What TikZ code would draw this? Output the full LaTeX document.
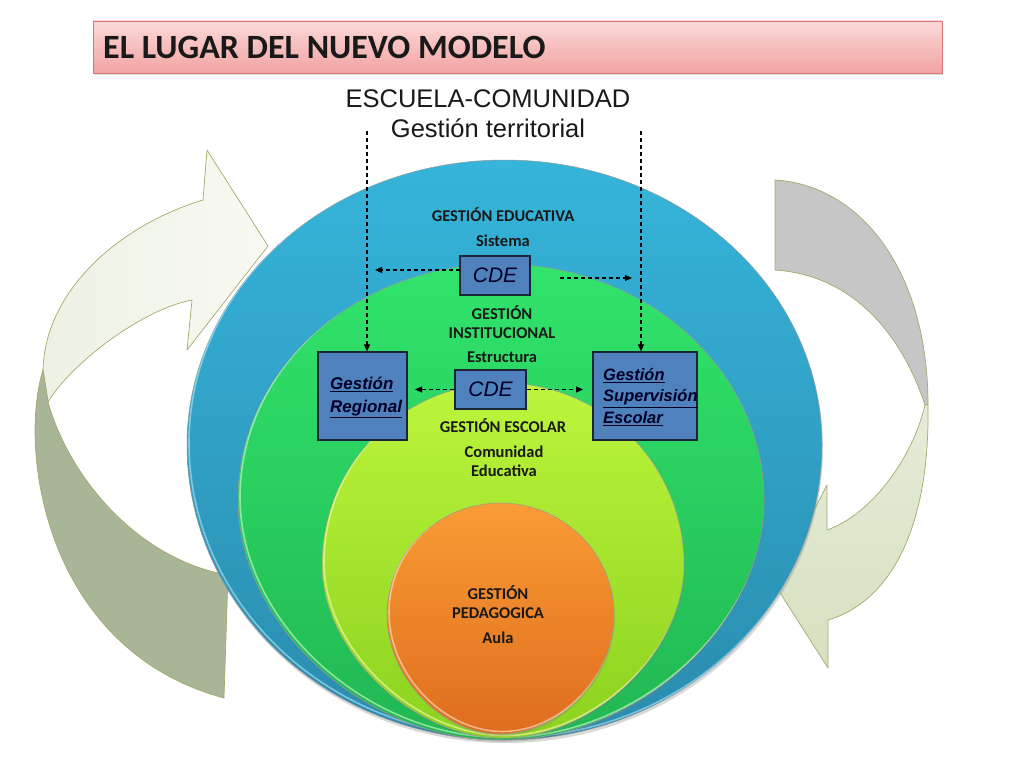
\documentclass[tikz,border=0pt]{standalone}
\usepackage{fontspec}
\setmainfont{Carlito}
\newfontfamily\arialf{Liberation Sans}
\usetikzlibrary{arrows.meta,shadows}
\definecolor{bluetop}{HTML}{36B4DA}
\definecolor{bluebot}{HTML}{2A8CAE}
\definecolor{greentop}{HTML}{31E46B}
\definecolor{greenbot}{HTML}{21B753}
\definecolor{limetop}{HTML}{BDF53C}
\definecolor{limebot}{HTML}{8BD21F}
\definecolor{orangetop}{HTML}{F99C35}
\definecolor{orangebot}{HTML}{DF6D1E}
\definecolor{boxblue}{HTML}{4F81BD}
\definecolor{boxedge}{HTML}{1B2536}
\definecolor{olive}{HTML}{A3AA6E}
\definecolor{darkrib}{HTML}{A9B597}
\definecolor{lightrib}{HTML}{F8FAF3}
\definecolor{lightrib2}{HTML}{EDF1E4}
\definecolor{grayrib}{HTML}{C6C6C6}
\definecolor{greenrib}{HTML}{E6ECD9}
\definecolor{greenrib2}{HTML}{D6E0BF}
\definecolor{pinktop}{HTML}{FBD9D9}
\definecolor{pinkbot}{HTML}{F2A3A3}
\definecolor{pinkedge}{HTML}{D9777A}
\newcommand\eggpath[7]{(#1,#4) .. controls ({#1-#6*#3},#4) and ({#1-#3},{#2-#6*(#2-#4)}) .. ({#1-#3},#2) .. controls ({#1-#3},{#2+#7*(#5-#2)}) and ({#1-#7*#3},#5) .. (#1,#5) .. controls ({#1+#7*#3},#5) and ({#1+#3},{#2+#7*(#5-#2)}) .. ({#1+#3},#2) .. controls ({#1+#3},{#2-#6*(#2-#4)}) and ({#1+#6*#3},#4) .. (#1,#4) -- cycle}
\tikzset{
  lbl/.style={font=\fontsize{16.5}{19}\selectfont\bfseries, text=black!90, align=center, inner sep=0pt},
  bx/.style={draw=boxedge, line width=1.2pt, fill=boxblue, inner sep=0pt},
  cdetxt/.style={font=\arialf\itshape\fontsize{21}{24}\selectfont, text=black!85!blue},
  boxtxt/.style={font=\arialf\bfseries\itshape\fontsize{16.5}{21.5}\selectfont, text=black!85!blue, align=left, inner sep=0pt, anchor=west},
  dar/.style={draw=black, line width=1.1pt, dash pattern=on 4pt off 3pt, -{Triangle[length=7pt,width=6pt]}},
  rib/.style={draw=olive, line width=0.7pt, line join=round},
  shp/.style={draw=black!40, line width=0.5pt},
  hl/.style={line width=1.6pt, opacity=0.6}
}
\begin{document}
\begin{tikzpicture}[x=1pt,y=-1pt]
\useasboundingbox (0,0) rectangle (1024,768);
\fill[white] (0,0) rectangle (1024,768);
% title
\shade[top color=pinktop, bottom color=pinkbot, draw=pinkedge, line width=0.8pt,
  drop shadow={opacity=0.25, shadow xshift=1pt, shadow yshift=-2pt}] (93,21) rectangle (942,73);
\node[anchor=west, font=\fontsize{34}{38}\selectfont\bfseries, text=black!90, inner sep=0pt] (title) at (103,47) {EL LUGAR DEL NUEVO MODELO};
\node[font=\arialf\fontsize{25.5}{30}\selectfont, text=black!90, align=center, inner sep=0pt] (sub) at (488,114) {ESCUELA-COMUNIDAD\\Gestión territorial};
% left ribbon arrow
\shade[rib, left color=lightrib2, right color=lightrib] (203,200) .. controls (120,225) and (45,290) .. (43,370) -- (48,402) .. controls (70,365) and (140,310) .. (192,300) -- (187,350) -- (268,246) -- (207,150) -- cycle;
\fill[rib, fill=darkrib] (43,370) .. controls (18,450) and (45,650) .. (224,698) -- (228,575) .. controls (140,560) and (70,480) .. (48,402) -- cycle;
% right ribbon arrow
\fill[rib, fill=grayrib] (775,180) .. controls (860,185) and (928,270) .. (928,405) -- (925,405) .. controls (900,330) and (850,275) .. (775,270) -- cycle;
\shade[rib, top color=greenrib, bottom color=greenrib2] (928,405) .. controls (930,520) and (895,600) .. (828,620) -- (828,668) -- (775,585) -- (827,485) -- (827,530) .. controls (870,515) and (912,460) .. (925,405) -- cycle;
% nested shapes
\shade[shp, top color=bluetop, bottom color=bluebot, drop shadow={opacity=0.3, shadow xshift=1pt, shadow yshift=-3pt}] \eggpath{504.5}{445}{317.5}{160}{740}{0.552}{0.552};
\begin{scope}
\clip \eggpath{504.5}{445}{317.5}{160}{740}{0.552}{0.552};
\draw[hl, draw=cyan!30] [xshift=2pt, yshift=2.5pt] \eggpath{504.5}{445}{317.5}{160}{740}{0.552}{0.552};
\end{scope}
\shade[shp, top color=greentop, bottom color=greenbot, drop shadow={opacity=0.25, shadow xshift=1pt, shadow yshift=-2pt}] \eggpath{501}{500}{263}{264}{740}{0.552}{0.52};
\begin{scope}
\clip \eggpath{501}{500}{263}{264}{740}{0.552}{0.52};
\draw[hl, draw=green!20] [xshift=2pt, yshift=2.5pt] \eggpath{501}{500}{263}{264}{740}{0.552}{0.52};
\end{scope}
\shade[shp, top color=limetop, bottom color=limebot, drop shadow={opacity=0.25, shadow xshift=1pt, shadow yshift=-2pt}] \eggpath{503}{565}{181}{383}{738}{0.552}{0.5};
\begin{scope}
\clip \eggpath{503}{565}{181}{383}{738}{0.552}{0.5};
\draw[hl, draw=yellow!30] [xshift=2pt, yshift=2.5pt] \eggpath{503}{565}{181}{383}{738}{0.552}{0.5};
\end{scope}
\shade[shp, top color=orangetop, bottom color=orangebot, drop shadow={opacity=0.25, shadow xshift=1pt, shadow yshift=-2pt}] \eggpath{500.5}{615}{113.5}{503}{734}{0.552}{0.52};
\begin{scope}
\clip \eggpath{500.5}{615}{113.5}{503}{734}{0.552}{0.52};
\draw[hl, draw=orange!20] [xshift=2pt, yshift=2.5pt] \eggpath{500.5}{615}{113.5}{503}{734}{0.552}{0.52};
\end{scope}
% labels in shapes
\node[lbl] (ge) at (503,215) {GESTIÓN EDUCATIVA};
\node[lbl] (sis) at (503,241) {Sistema};
\node[lbl] (gi) at (502,322) {GESTIÓN\\INSTITUCIONAL};
\node[lbl] (est) at (502,357) {Estructura};
\node[lbl] (ges) at (503,426) {GESTIÓN ESCOLAR};
\node[lbl] (ce) at (504,461.5) {Comunidad\\Educativa};
\node[lbl] (gp) at (498,602.5) {GESTIÓN\\PEDAGOGICA};
\node[lbl] (aula) at (498,638) {Aula};
% boxes
\node[bx, minimum width=70pt, minimum height=39pt] (cde1) at (495,275.5) {};
\node[cdetxt] (cde1t) at (cde1) {CDE};
\node[bx, minimum width=71pt, minimum height=39pt] (cde2) at (490.5,389.5) {};
\node[cdetxt] (cde2t) at (cde2) {CDE};
\node[bx, minimum width=89pt, minimum height=88pt] (reg) at (362.5,396) {};
\node[boxtxt, font=\arialf\bfseries\itshape\fontsize{17}{23}\selectfont] (regt) at (330,397.5) {\underline{Gestión}\\\underline{Regional}};
\node[bx, minimum width=104pt, minimum height=88pt] (sup) at (645,396) {};
\node[boxtxt] (supt) at (603,397) {\underline{Gestión}\\\underline{Supervisión}\\\underline{Escolar}};
% dashed connectors
\coordinate (v1) at (367,131);
\coordinate (v2) at (641,131);
\draw[dar] (v1) -- (v1 |- reg.north);
\draw[dar] (v2) -- (v2 |- sup.north);
\coordinate (h1s) at (460,270);
\coordinate (h1e) at (375,270);
\draw[dar] (h1s) -- (h1e);
\coordinate (h2s) at (560,278);
\coordinate (h2e) at (632,278);
\draw[dar] (h2s) -- (h2e);
\coordinate (h3e) at (415,389.5);
\coordinate (h4e) at (583,389.5);
\draw[dar] (cde2.west) -- (h3e);
\draw[dar] (cde2.east) -- (h4e);
\end{tikzpicture}
\end{document}
